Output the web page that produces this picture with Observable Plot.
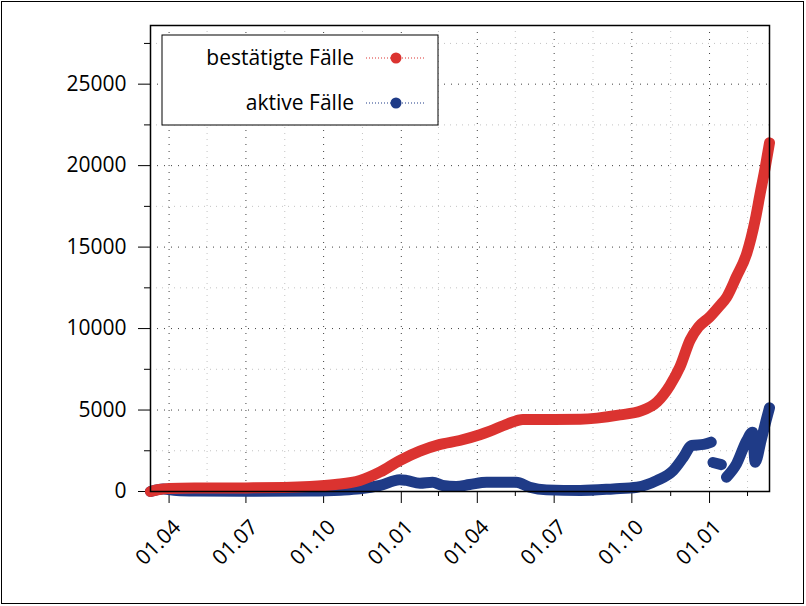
<!DOCTYPE html>
<html><head><meta charset="utf-8">
<script src="https://cdn.jsdelivr.net/npm/d3@7"></script>
<script src="https://cdn.jsdelivr.net/npm/@observablehq/plot@0.6"></script>
<style>
body{margin:0;background:#fff;}
#wrap{position:relative;width:806px;height:606px;}
#border{position:absolute;left:1px;top:1px;width:803px;height:603px;border:1.5px solid #000;box-sizing:border-box;pointer-events:none;}
</style></head><body><div id="wrap"><div id="border"></div></div>
<script>
// ---- data ----
const confirmedDates = ["2020-03-10","2020-03-20","2020-04-01","2020-05-01","2020-07-01","2020-08-15","2020-09-15","2020-10-15","2020-11-13","2020-12-07","2020-12-30","2021-01-23","2021-02-15","2021-03-11","2021-04-04","2021-04-16","2021-05-07","2021-05-25","2021-07-01","2021-08-01","2021-09-17","2021-10-11","2021-10-31","2021-11-15","2021-11-27","2021-12-09","2021-12-19","2022-01-01","2022-01-13","2022-01-21","2022-02-02","2022-02-14","2022-02-24","2022-03-02","2022-03-08","2022-03-13"];
const confirmedValues = [0,120,180,210,220,240,300,430,680,1200,1900,2480,2880,3130,3480,3700,4150,4420,4420,4430,4700,4930,5500,6500,7650,9300,10100,10700,11400,11900,13200,14600,16650,18300,19900,21400];

const activeDates = ["2020-03-10","2020-03-25","2020-04-10","2020-05-03","2020-07-01","2020-09-15","2020-10-21","2020-11-13","2020-12-07","2020-12-30","2021-01-07","2021-01-23","2021-02-07","2021-02-19","2021-03-07","2021-03-23","2021-04-12","2021-04-27","2021-05-17","2021-06-02","2021-06-22","2021-08-01","2021-09-09","2021-10-07","2021-10-31","2021-11-19","2021-12-01","2021-12-11","2021-12-25","2022-01-03","2022-01-05","2022-01-15","2022-01-21","2022-02-02","2022-02-14","2022-02-21","2022-02-24","2022-03-03","2022-03-09","2022-03-13"];
const activeValues = [0,150,60,30,10,30,80,160,370,720,680,510,570,370,310,430,570,570,570,265,100,60,160,265,680,1290,2100,2830,2890,3030,1780,1650,880,1700,3130,3640,1800,3130,4360,5140];
const activeSegments = [1,1,1,1,1,1,1,1,1,1,1,1,1,1,1,1,1,1,1,1,1,1,1,1,1,1,1,1,1,1,2,2,3,3,3,3,3,3,3,3];

const xMajorTicks = ["2020-04-01","2020-07-01","2020-10-01","2021-01-01","2021-04-01","2021-07-01","2021-10-01","2022-01-01"];
const xTickLabels = ["01.04","01.07","01.10","01.01","01.04","01.07","01.10","01.01"];
const xMinorTicks = ["2020-05-16","2020-08-16","2020-11-16","2021-02-14","2021-05-16","2021-08-16","2021-11-16","2022-02-15"];
const yMajorTicks = [0,5000,10000,15000,20000,25000];
const yMinorTicks = [2500,7500,12500,17500,22500,27500];
const seriesNames = ["bestätigte Fälle","aktive Fälle"];
const seriesColors = ["#db3330","#1f3b87"];
const xDomain = ["2020-03-10","2022-03-13"];
const yDomain = [0,28600];

// ---- build tables ----
const parse = d3.utcParse("%Y-%m-%d");
const confirmed = confirmedDates.map((d,i)=>({date:parse(d), value:confirmedValues[i]}));
const active = activeDates.map((d,i)=>({date:parse(d), value:activeValues[i], seg:activeSegments[i]}));
const majorX = xMajorTicks.map(parse);
const minorX = xMinorTicks.map(parse);
const labelRows = majorX.map((d,i)=>({date:d, label:xTickLabels[i]}));

const FONT = "'Open Sans', 'Noto Sans', sans-serif";
const lineOpts = {strokeWidth:11, strokeLinecap:"round", strokeLinejoin:"round", curve:"monotone-x"};

const chart = Plot.plot({
  width:806, height:606,
  marginLeft:150, marginRight:37, marginTop:25, marginBottom:115,
  style:{fontFamily:FONT, fontSize:"21px", background:"transparent", color:"#000"},
  x:{type:"utc", domain:xDomain.map(parse), label:null},
  y:{domain:yDomain, label:null},
  marks:[
    Plot.gridY({ticks:yMinorTicks, stroke:"#888", strokeOpacity:0.5, strokeDasharray:"1,5"}),
    Plot.gridY({ticks:yMajorTicks.filter(v=>v>0), stroke:"#000", strokeOpacity:0.75, strokeDasharray:"1,6"}),
    Plot.gridX({ticks:minorX, stroke:"#888", strokeOpacity:0.5, strokeDasharray:"1,5"}),
    Plot.gridX({ticks:majorX, stroke:"#000", strokeOpacity:0.75, strokeDasharray:"1,6"}),
    Plot.axisY({ticks:yMajorTicks, tickSize:12, tickPadding:12, fontSize:21, tickFormat:d=>String(d), label:null}),
    Plot.axisY({ticks:yMinorTicks, tickSize:6, tickFormat:()=>"", label:null}),
    Plot.axisX({ticks:majorX, tickSize:12, tickFormat:()=>"", label:null}),
    Plot.axisX({ticks:minorX, tickSize:5, tickFormat:()=>"", label:null}),
    Plot.text(labelRows, {x:"date", text:"label", frameAnchor:"bottom", rotate:-45, textAnchor:"end", lineAnchor:"bottom", dx:13, dy:37, fontSize:21}),
    Plot.line(active, {x:"date", y:"value", z:"seg", stroke:seriesColors[1], ...lineOpts}),
    Plot.line(confirmed, {x:"date", y:"value", stroke:seriesColors[0], ...lineOpts}),
    Plot.frame({stroke:"#000", strokeWidth:1.5})
  ]
});
document.getElementById("wrap").prepend(chart);

// ---- legend (gnuplot style key box) ----
const svg = d3.select(chart);
const key = svg.append("g").attr("font-family", FONT).attr("font-size", 21);
key.append("rect").attr("x",162).attr("y",35).attr("width",276).attr("height",90)
  .attr("fill","#fff").attr("stroke","#000").attr("stroke-width",1);
seriesNames.forEach((name,i)=>{
  const cy = 58 + i*45;
  key.append("text").attr("x",354).attr("y",cy).attr("dy","0.35em").attr("text-anchor","end").attr("fill","#000").text(name);
  key.append("line").attr("x1",366).attr("x2",426).attr("y1",cy).attr("y2",cy)
    .attr("stroke",seriesColors[i]).attr("stroke-width",1).attr("stroke-dasharray","1,2");
  key.append("circle").attr("cx",396).attr("cy",cy).attr("r",5.5).attr("fill",seriesColors[i]);
});
</script></body></html>
